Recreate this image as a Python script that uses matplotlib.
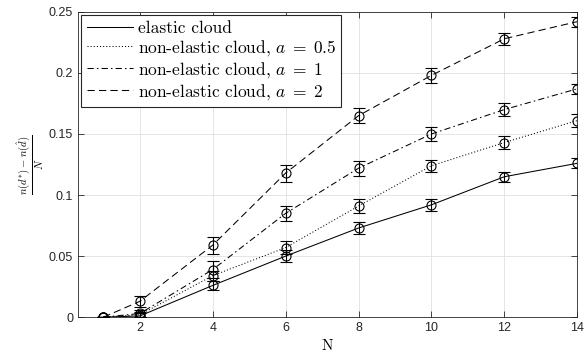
import numpy as np
import matplotlib
matplotlib.use('Agg')
import matplotlib.pyplot as plt

plt.rcParams['mathtext.fontset'] = 'cm'
plt.rcParams['font.family'] = 'Liberation Sans'

N = [1, 2, 4, 6, 8, 10, 12, 14]

elastic = [0, 0.001, 0.026, 0.050, 0.073, 0.092, 0.115, 0.126]
elastic_err = [0, 0.002, 0.004, 0.005, 0.005, 0.005, 0.004, 0.004]

a05 = [0, 0.002, 0.034, 0.057, 0.091, 0.124, 0.143, 0.161]
a05_err = [0, 0.002, 0.004, 0.005, 0.006, 0.005, 0.005, 0.005]

a1 = [0, 0.003, 0.039, 0.085, 0.122, 0.150, 0.170, 0.187]
a1_err = [0, 0.003, 0.007, 0.006, 0.006, 0.006, 0.005, 0.004]

a2 = [0, 0.013, 0.059, 0.118, 0.165, 0.198, 0.228, 0.242]
a2_err = [0, 0.0045, 0.007, 0.007, 0.006, 0.006, 0.005, 0.004]

labels = ['elastic cloud',
          r'non-elastic cloud, $a\;=\;0.5$',
          r'non-elastic cloud, $a\;=\;1$',
          r'non-elastic cloud, $a\;=\;2$']

fig = plt.figure(figsize=(5.86, 3.6), dpi=100)
ax = fig.add_axes([0.133, 0.119, 0.852, 0.848])

styles = ['-', (0, (1, 2)), (0, (6, 3, 1.5, 3)), (0, (7, 4))]
series = [(elastic, elastic_err), (a05, a05_err), (a1, a1_err), (a2, a2_err)]

for (y, e), ls, lab in zip(series, styles, labels):
    ax.plot(N, y, color='k', linestyle=ls, linewidth=0.75, label=lab, zorder=3)
    ax.errorbar(N, y, yerr=e, fmt='o', color='k', mfc='none', ms=6.5, mew=0.8,
                elinewidth=0.8, capsize=4, capthick=0.8, zorder=4)

ax.set_xlim(0.3, 14)
ax.set_ylim(0, 0.25)
ax.set_xticks([2, 4, 6, 8, 10, 12, 14])
ax.set_yticks([0, 0.05, 0.1, 0.15, 0.2, 0.25])
ax.set_yticklabels(['0', '0.05', '0.1', '0.15', '0.2', '0.25'])
ax.tick_params(direction='in', top=True, right=True, length=4, width=0.6,
               labelsize=9, colors='0.15')
ax.grid(True, color='0.88', linewidth=0.6, zorder=0)
ax.set_axisbelow(True)
for s in ax.spines.values():
    s.set_linewidth(0.6)
    s.set_color('0.15')

ax.set_xlabel(r'$\mathrm{N}$', fontsize=11, labelpad=3)
ax.set_ylabel(r'$\frac{n(d^{*})-n(\hat{d})}{N}$', fontsize=11, labelpad=2)

leg = ax.legend(loc='upper left', prop={'family': 'cmr10', 'size': 12.5},
                fancybox=False, framealpha=1, edgecolor='0.15',
                handlelength=2.7, handletextpad=0.25, borderpad=0.3,
                labelspacing=0.12, borderaxespad=0.2)
leg.get_frame().set_linewidth(0.8)

fig.savefig('out.png', dpi=100)
